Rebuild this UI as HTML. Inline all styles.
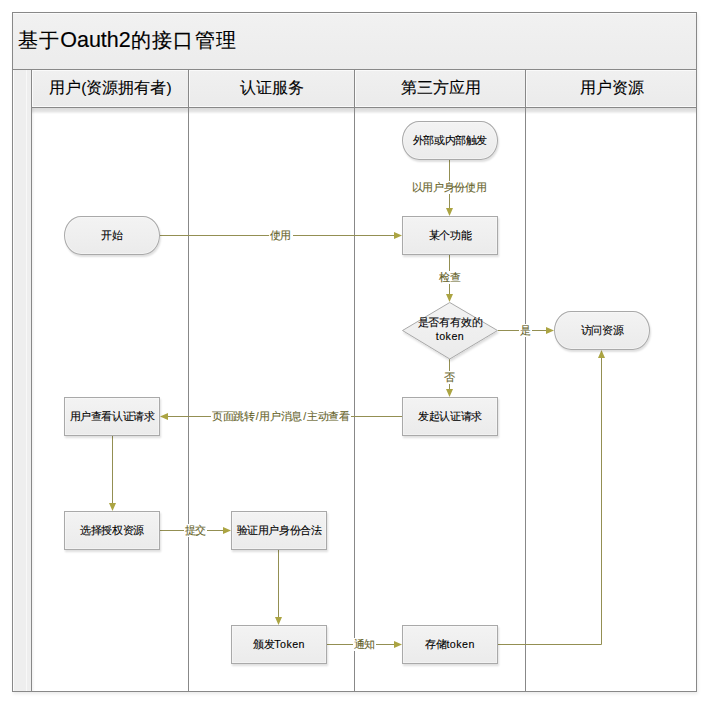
<!DOCTYPE html>
<html><head><meta charset="utf-8">
<style>
*{margin:0;padding:0;box-sizing:border-box}
html,body{width:711px;height:705px;background:#fff;overflow:hidden}
body{position:relative;font-family:"Liberation Sans",sans-serif;color:#111}
.a{position:absolute}
#frame{left:12px;top:12px;width:685px;height:680px;border:1px solid #888888;background:#fff;box-shadow:1px 2px 3px rgba(0,0,0,.08)}
#title{left:13px;top:13px;width:683px;height:56px;background:linear-gradient(#f1f1f1,#ececec);border-top:1px solid #fafafa}
#title b{font-weight:400;font-size:20.4px;letter-spacing:1.3px}
#title span{position:absolute;left:4.6px;top:12.6px;font-size:21.5px;line-height:26px;color:#000;white-space:nowrap;-webkit-text-stroke:0.15px #000}
.hl{background:#888888;height:1px}
.vl{background:#888888;width:1px}
#strip{left:13px;top:70px;width:18px;height:621px;background:#eeeeee;border-left:1px solid #fbfbfb}
#strip2{left:26px;top:70px;width:1px;height:621px;background:#f8f8f8}
.hd{position:absolute;top:70px;height:37px;-webkit-text-stroke:0.1px #000;color:#000;border-bottom:1px solid #fafafa;background:linear-gradient(#f0f0f0,#ebebeb);border-top:1px solid #fafafa;border-left:1px solid #fafafa;font-size:15.5px;line-height:34px;text-align:center;white-space:nowrap}
#hshadow{left:32px;top:108px;width:664px;height:6px;background:linear-gradient(rgba(0,0,0,.15),rgba(0,0,0,.1) 55%,rgba(0,0,0,0))}
.box{position:absolute;width:96px;height:39px;border:1px solid #a9a9a9;background:linear-gradient(#f3f3f3,#ebebeb);font-size:10.7px;letter-spacing:-0.4px;text-align:center;line-height:37px;color:#000;white-space:nowrap;-webkit-text-stroke:0.1px #000;box-shadow:1px 2px 2px rgba(0,0,0,.13),inset 0 0 0 1px rgba(255,255,255,.35)}
.pill{border-radius:17px/19.5px}
.lb{position:absolute;background:#fff;font-size:10.6px;letter-spacing:-0.35px;line-height:13px;color:#66632a;white-space:nowrap;text-align:center;-webkit-text-stroke:0.1px #66632a}
.lb i{font-style:normal;margin:0 1.2px}
svg{position:absolute;left:0;top:0}
</style></head><body>
<div class="a" id="frame"></div>
<div class="a" id="title"><span><b>基于</b>Oauth2<b>的接口管理</b></span></div>
<div class="a hl" style="left:13px;top:69px;width:683px"></div>
<div class="a" id="strip"></div>
<div class="a" id="strip2"></div>
<div class="a" style="left:32px;top:108px;width:3px;height:583px;background:linear-gradient(90deg,rgba(0,0,0,.05),rgba(0,0,0,0))"></div>
<div class="hd" style="left:32px;width:156px">用户(资源拥有者)</div>
<div class="hd" style="left:189px;width:165px">认证服务</div>
<div class="hd" style="left:355px;width:170px">第三方应用</div>
<div class="hd" style="left:526px;width:170px">用户资源</div>
<div class="a" id="hshadow"></div>
<div class="a hl" style="left:32px;top:107px;width:664px"></div>
<div class="a vl" style="left:31px;top:69px;height:622px"></div>
<div class="a vl" style="left:188px;top:69px;height:622px"></div>
<div class="a vl" style="left:354px;top:69px;height:622px"></div>
<div class="a vl" style="left:525px;top:69px;height:622px"></div>

<svg width="711" height="705" viewBox="0 0 711 705">
<defs>
<linearGradient id="dg" x1="0" y1="0" x2="0" y2="1"><stop offset="0" stop-color="#f3f3f3"/><stop offset="1" stop-color="#ebebeb"/></linearGradient>
<filter id="sh" x="-10%" y="-10%" width="130%" height="140%"><feDropShadow dx="1" dy="2" stdDeviation="1" flood-color="#000" flood-opacity="0.14"/></filter>
</defs>
<g stroke="#938f52" stroke-width="1" fill="none">
<path d="M449.5 160V208"/>
<path d="M160 235.5H394"/>
<path d="M449.5 255V294"/>
<path d="M498 330.5H546"/>
<path d="M449.5 359V389"/>
<path d="M402 416.5H168"/>
<path d="M112.5 436V503"/>
<path d="M160 530.5H223"/>
<path d="M278.5 550V617"/>
<path d="M327 644.5H394"/>
<path d="M498 644.5H601.5V358"/>
</g>
<g fill="#aba442">
<path d="M446 208H453L449.5 216Z"/>
<path d="M394 232H394L402 235.5L394 239Z"/>
<path d="M446 294H453L449.5 302Z"/>
<path d="M546 327L554 330.5L546 334Z"/>
<path d="M446 389H453L449.5 397Z"/>
<path d="M168 413L160 416.5L168 420Z"/>
<path d="M109 503H116L112.5 511Z"/>
<path d="M223 527L231 530.5L223 534Z"/>
<path d="M275 617H282L278.5 625Z"/>
<path d="M394 641L402 644.5L394 648Z"/>
<path d="M598 358H605L601.5 350Z"/>
</g>
<path d="M449.75 302.5L497.5 330.5L449.75 359L402.5 330.5Z" fill="url(#dg)" stroke="#a9a9a9" stroke-width="1" filter="url(#sh)"/>
</svg>

<div class="lb" style="left:411px;top:181px;width:76px">以用户身份使用</div>
<div class="lb" style="left:268.5px;top:229px;width:24px">使用</div>
<div class="lb" style="left:438px;top:271px;width:24px">检查</div>
<div class="lb" style="left:519px;top:324px;width:13px">是</div>
<div class="lb" style="left:443px;top:371px;width:13px">否</div>
<div class="lb" style="left:211px;top:410px;width:139.5px">页面跳转<i>/</i>用户消息<i>/</i>主动查看</div>
<div class="lb" style="left:184px;top:524px;width:23px">提交</div>
<div class="lb" style="left:353px;top:638px;width:23px">通知</div>

<div class="box pill" style="left:402px;top:121px">外部或内部触发</div>
<div class="box" style="left:402px;top:216px">某个功能</div>
<div class="box pill" style="left:64px;top:216px">开始</div>
<div class="a" style="left:402px;top:316.3px;width:96px;font-size:10.7px;letter-spacing:-0.2px;line-height:13.8px;text-align:center;color:#000;-webkit-text-stroke:0.1px #000">是否有有效的<br><span style="letter-spacing:0.45px">token</span></div>
<div class="box pill" style="left:554px;top:311px">访问资源</div>
<div class="box" style="left:402px;top:397px">发起认证请求</div>
<div class="box" style="left:64px;top:397px">用户查看认证请求</div>
<div class="box" style="left:64px;top:511px">选择授权资源</div>
<div class="box" style="left:231px;top:511px">验证用户身份合法</div>
<div class="box" style="left:231px;top:625px">颁发<span style="letter-spacing:0.45px">Token</span></div>
<div class="box" style="left:402px;top:625px">存储<span style="letter-spacing:0.45px">token</span></div>
</body></html>
